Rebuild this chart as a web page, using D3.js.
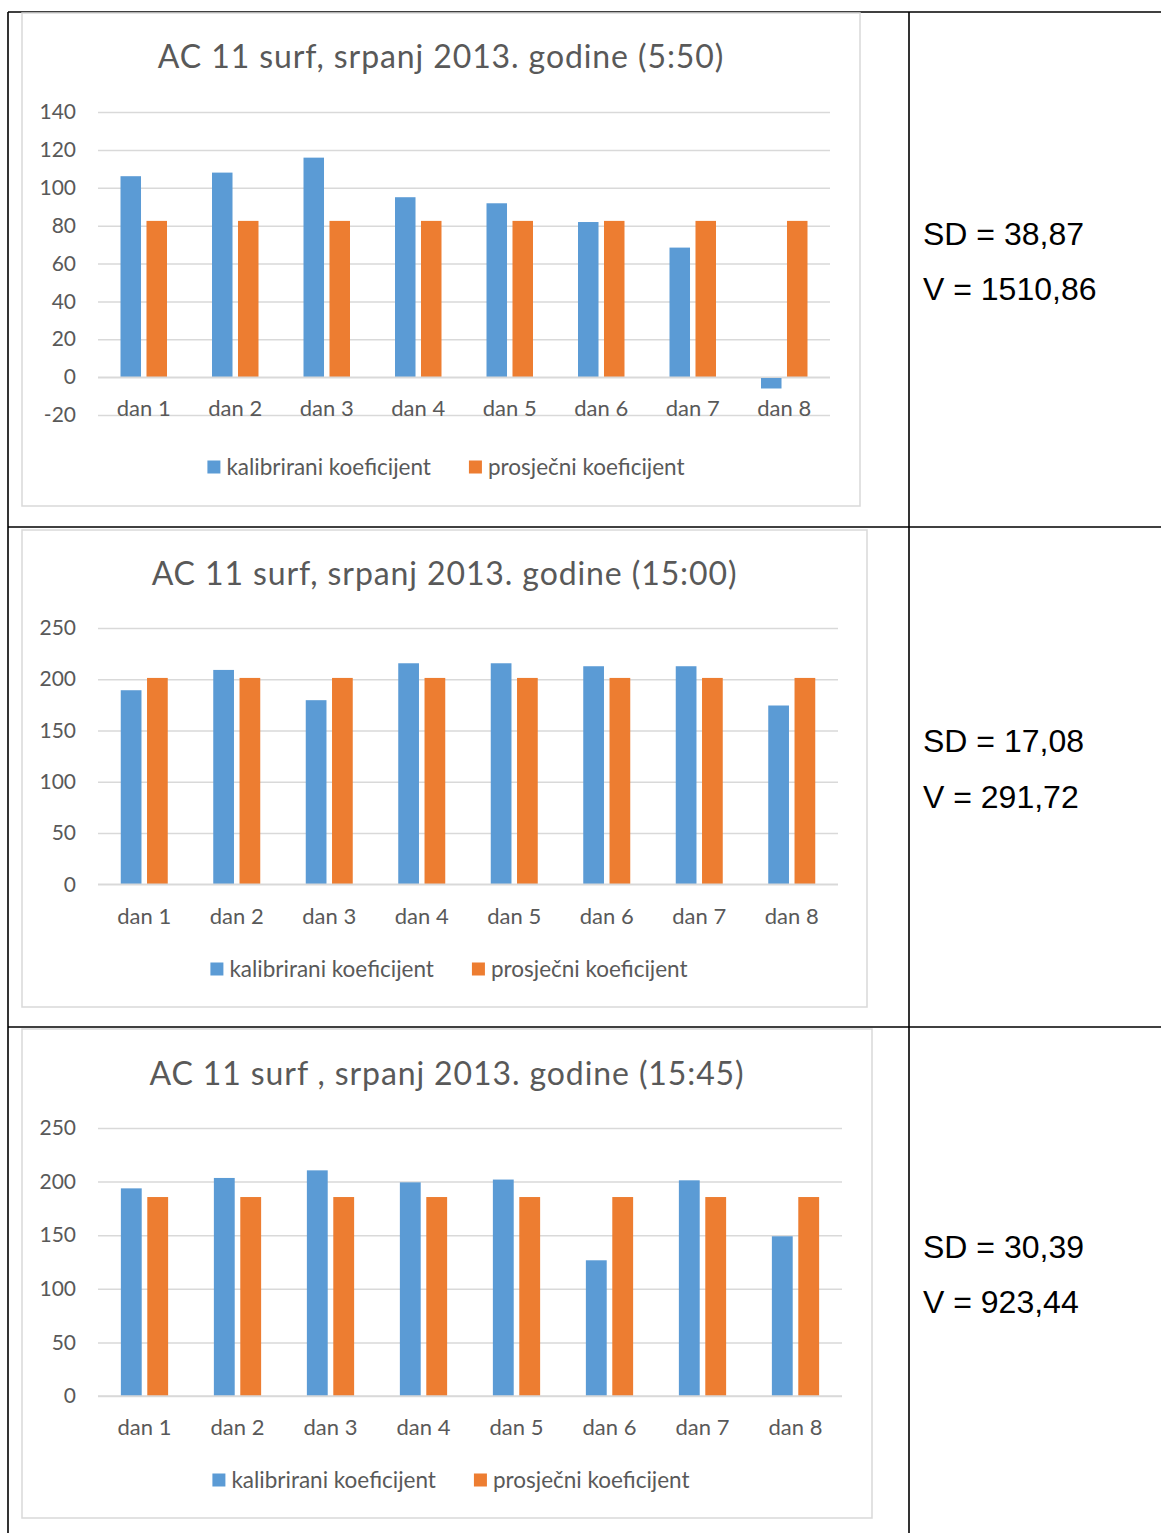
<!DOCTYPE html>
<html>
<head>
<meta charset="utf-8">
<script src="https://cdn.jsdelivr.net/npm/d3@7"></script>
<style>
  html, body { margin: 0; padding: 0; background: #fff; }
  svg { display: block; }
</style>
</head>
<body>
<svg id="chart" width="1161" height="1533"></svg>
<script>
// ---------------- DATA ----------------
const categories = ["dan 1", "dan 2", "dan 3", "dan 4", "dan 5", "dan 6", "dan 7", "dan 8"];
const seriesNames = ["kalibrirani koeficijent", "prosječni koeficijent"];
const titles = [
  "AC 11 surf, srpanj 2013. godine (5:50)",
  "AC 11 surf, srpanj 2013. godine (15:00)",
  "AC 11 surf , srpanj 2013. godine (15:45)"
];
const calibrated1 = [106.1, 108.0, 115.9, 95.0, 91.8, 81.9, 68.4, -6.0];
const average1    = [82.5, 82.5, 82.5, 82.5, 82.5, 82.5, 82.5, 82.5];
const calibrated2 = [189.3, 209.1, 179.6, 215.6, 215.6, 212.7, 212.7, 174.4];
const average2    = [201.3, 201.3, 201.3, 201.3, 201.3, 201.3, 201.3, 201.3];
const calibrated3 = [193.7, 203.4, 210.5, 199.3, 201.9, 126.6, 201.2, 149.0];
const average3    = [185.6, 185.6, 185.6, 185.6, 185.6, 185.6, 185.6, 185.6];
const ticks1 = [-20, 0, 20, 40, 60, 80, 100, 120, 140];
const ticks2 = [0, 50, 100, 150, 200, 250];
const ticks3 = [0, 50, 100, 150, 200, 250];
const sdLabels = ["SD = 38,87", "SD = 17,08", "SD = 30,39"];
const vLabels  = ["V = 1510,86", "V = 291,72", "V = 923,44"];

// ---------------- STYLE / LAYOUT ----------------
const colors = ["#5b9bd5", "#ed7d31"];
const textColor = "#595959";
const gridColor = "#d9d9d9";
const chartFont = "Lato, 'Open Sans', sans-serif";

const layouts = [
  { box: [22, 13, 838, 493], left: 98, right: 830, yTop: 112, yBottom: 415, titleY: 68, catY: 416, legendY: 467, legendCx: 446 },
  { box: [22, 530, 845, 477], left: 98, right: 838, yTop: 628, yBottom: 884.3, titleY: 585, catY: 924, legendY: 969, legendCx: 449 },
  { box: [22, 1029, 850, 489], left: 98, right: 842, yTop: 1128, yBottom: 1396, titleY: 1085, catY: 1435, legendY: 1480, legendCx: 451 }
];
const rowStatY = [[245, 300], [752, 808], [1258, 1313]];

const chartsData = [
  { title: titles[0], series: [calibrated1, average1], ticks: ticks1 },
  { title: titles[1], series: [calibrated2, average2], ticks: ticks2 },
  { title: titles[2], series: [calibrated3, average3], ticks: ticks3 }
];

const svg = d3.select("#chart");

// ---------------- TABLE ----------------
const table = svg.append("g").attr("stroke", "#000").attr("stroke-width", 1.6);
table.append("line").attr("x1", 8).attr("x2", 1161).attr("y1", 12).attr("y2", 12);
table.append("line").attr("x1", 8).attr("x2", 8).attr("y1", 12).attr("y2", 1533);
table.append("line").attr("x1", 909).attr("x2", 909).attr("y1", 12).attr("y2", 1533);
table.append("line").attr("x1", 8).attr("x2", 1161).attr("y1", 527).attr("y2", 527);
table.append("line").attr("x1", 8).attr("x2", 1161).attr("y1", 1027).attr("y2", 1027);

// stats text
rowStatY.forEach((ys, i) => {
  svg.append("text").attr("x", 923).attr("y", ys[0])
    .attr("font-family", "'Liberation Sans', Arial, sans-serif").attr("font-size", 32)
    .attr("fill", "#000").text(sdLabels[i]);
  svg.append("text").attr("x", 923).attr("y", ys[1])
    .attr("font-family", "'Liberation Sans', Arial, sans-serif").attr("font-size", 32)
    .attr("fill", "#000").text(vLabels[i]);
});

// ---------------- CHARTS ----------------
chartsData.forEach((cd, ci) => {
  const L = layouts[ci];
  const g = svg.append("g");
  const [bx, by, bw, bh] = L.box;

  g.append("rect").attr("x", bx).attr("y", by).attr("width", bw).attr("height", bh)
    .attr("fill", "#fff").attr("stroke", gridColor).attr("stroke-width", 1.5);

  g.append("text").attr("x", bx + bw / 2).attr("y", L.titleY)
    .attr("text-anchor", "middle").attr("font-family", chartFont)
    .attr("font-size", 32).attr("letter-spacing", 0.9)
    .attr("fill", textColor).text(cd.title);

  const y = d3.scaleLinear()
    .domain([cd.ticks[0], cd.ticks[cd.ticks.length - 1]])
    .range([L.yBottom, L.yTop]);
  const x = d3.scaleBand().domain(categories).range([L.left, L.right]);
  const inner = d3.scaleBand().domain([0, 1]).range([0, x.bandwidth()])
    .paddingInner(0.211).paddingOuter(0.866);

  // gridlines + tick labels
  const yAxis = d3.axisLeft(y).tickValues(cd.ticks).tickSize(-(L.right - L.left))
    .tickPadding(22).tickFormat(d => String(d));
  const ya = g.append("g").attr("transform", `translate(${L.left},0)`).call(yAxis);
  ya.select(".domain").remove();
  ya.selectAll(".tick line").attr("stroke", gridColor).attr("stroke-width", 1.5);
  ya.selectAll(".tick text").attr("font-family", chartFont).attr("font-size", 21)
    .attr("fill", textColor);

  // bars
  cd.series.forEach((vals, si) => {
    g.append("g").selectAll("rect").data(vals).join("rect")
      .attr("x", (d, i) => x(categories[i]) + inner(si))
      .attr("width", inner.bandwidth())
      .attr("y", d => Math.min(y(d), y(0)))
      .attr("height", d => Math.abs(y(d) - y(0)))
      .attr("fill", colors[si]);
  });

  // zero axis line
  g.append("line").attr("x1", L.left).attr("x2", L.right)
    .attr("y1", y(0)).attr("y2", y(0)).attr("stroke", gridColor).attr("stroke-width", 1.5);

  // category labels
  g.append("g").selectAll("text").data(categories).join("text")
    .attr("x", d => x(d) + x.bandwidth() / 2)
    .attr("y", L.catY)
    .attr("text-anchor", "middle").attr("font-family", chartFont)
    .attr("font-size", 22).attr("fill", textColor).text(d => d);

  // legend
  const lg = g.append("g");
  const items = seriesNames.map((name, si) => {
    const t = lg.append("text").attr("y", L.legendY + 7.5)
      .attr("font-family", chartFont).attr("font-size", 22.5)
      .attr("fill", textColor).text(name);
    return { t, w: t.node().getComputedTextLength(), si };
  });
  const sq = 13, gapSq = 6, gapItem = 38;
  const total = items.reduce((s, it) => s + sq + gapSq + it.w, 0) + gapItem * (items.length - 1);
  let cx = L.legendCx - total / 2;
  items.forEach(it => {
    lg.append("rect").attr("x", cx).attr("y", L.legendY - 6.5).attr("width", sq).attr("height", sq)
      .attr("fill", colors[it.si]);
    it.t.attr("x", cx + sq + gapSq);
    cx += sq + gapSq + it.w + gapItem;
  });
});
</script>
</body>
</html>
